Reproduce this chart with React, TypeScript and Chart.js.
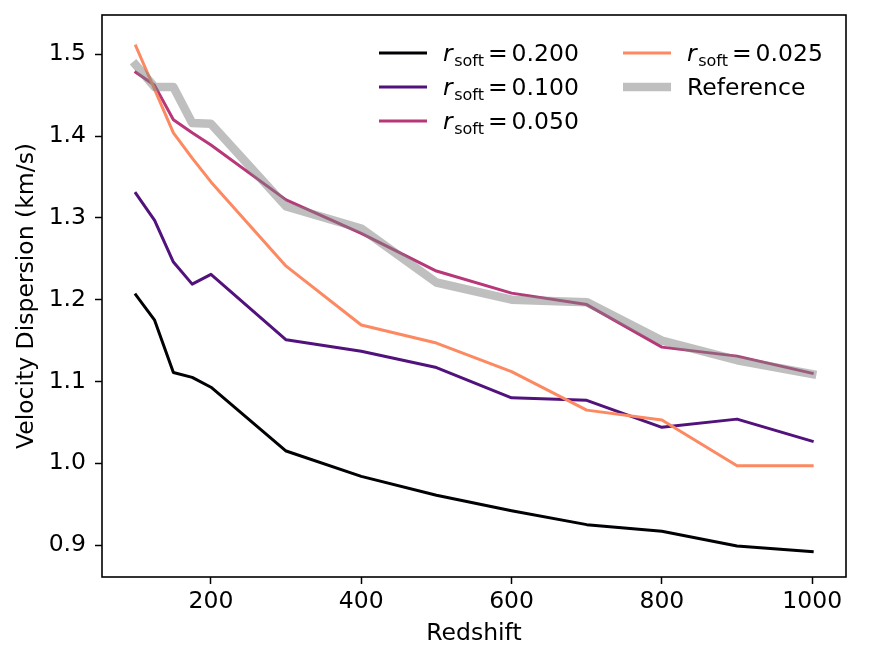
import { useEffect, useRef } from "react";
import { Chart, registerables } from "chart.js";

Chart.register(...registerables);

// Redshift sample points
const redshift = [100, 125, 150, 175, 200, 300, 400, 500, 600, 700, 800, 900, 1000];

// Velocity dispersion (km/s) per softening length
const soft200 = [1.206, 1.175, 1.111, 1.105, 1.093, 1.015, 0.984, 0.961, 0.942, 0.925, 0.917, 0.899, 0.892];
const soft100 = [1.330, 1.297, 1.246, 1.219, 1.231, 1.151, 1.137, 1.117, 1.080, 1.077, 1.044, 1.054, 1.027];
const soft050 = [1.478, 1.462, 1.420, 1.404, 1.389, 1.322, 1.281, 1.235, 1.208, 1.194, 1.142, 1.131, 1.110];
const soft025 = [1.510, 1.457, 1.404, 1.373, 1.344, 1.241, 1.169, 1.147, 1.112, 1.065, 1.053, 0.997, 0.997];
const reference = [1.487, 1.460, 1.460, 1.416, 1.415, 1.314, 1.287, 1.221, 1.200, 1.197, 1.150, 1.126, 1.109];

const softening = ["0.200", "0.100", "0.050", "0.025"];
const referenceLabel = "Reference";
const lineColors = ["#000004", "#51127c", "#b73779", "#fc8961"];
const referenceColor = "rgba(128,128,128,0.5)";

const xTicks = [200, 400, 600, 800, 1000];
const yTicks = [0.9, 1.0, 1.1, 1.2, 1.3, 1.4, 1.5];

const FONT = "'DejaVu Sans', sans-serif";
const FS = 23.5;
const TITLE_FS = 23.5;

// Full frame around the plotting area
const frame = {
  id: "frame",
  afterDatasetsDraw(chart: any) {
    const { ctx, chartArea: a } = chart;
    ctx.save();
    ctx.strokeStyle = "#000";
    ctx.lineWidth = 1.6;
    ctx.strokeRect(a.left, a.top, a.right - a.left, a.bottom - a.top);
    ctx.restore();
  },
};

// Two-column legend with r_soft subscripts
function drawSoftLabel(ctx: CanvasRenderingContext2D, x: number, base: number, value: string) {
  ctx.font = `italic ${FS}px ${FONT}`;
  ctx.fillText("r", x, base);
  x += ctx.measureText("r").width + 1.5;
  ctx.font = `${Math.round(FS * 0.68)}px ${FONT}`;
  ctx.fillText("soft", x, base + 5);
  x += ctx.measureText("soft").width + 4;
  ctx.font = `${FS}px ${FONT}`;
  ctx.fillText("=", x, base);
  x += ctx.measureText("=").width + 4;
  ctx.fillText(value, x, base);
}

const mathLegend = {
  id: "mathLegend",
  afterDraw(chart: any) {
    const { ctx, chartArea: a } = chart;
    const colX = [a.left + 277, a.left + 521];
    const rowY = [a.top + 38, a.top + 72, a.top + 106];
    const handle = 48;
    ctx.save();
    ctx.fillStyle = "#000";
    ctx.textBaseline = "alphabetic";
    ctx.textAlign = "left";
    chart.data.datasets.forEach((ds: any, i: number) => {
      const col = Math.floor(i / 3);
      const row = i % 3;
      const x = colX[col];
      const y = rowY[row];
      ctx.save();
      ctx.strokeStyle = ds.borderColor;
      ctx.lineWidth = ds.borderWidth;
      ctx.lineCap = "butt";
      ctx.beginPath();
      ctx.moveTo(x, y);
      ctx.lineTo(x + handle, y);
      ctx.stroke();
      ctx.restore();
      const tx = x + handle + 16;
      const base = y + 7.5;
      if (i < softening.length) {
        drawSoftLabel(ctx, tx, base, softening[i]);
      } else {
        ctx.font = `${FS}px ${FONT}`;
        ctx.fillText(referenceLabel, tx, base);
      }
    });
    ctx.restore();
  },
};

function series(values: number[]) {
  return redshift.map((z, i) => ({ x: z, y: values[i] }));
}

export default function App() {
  const canvasRef = useRef<HTMLCanvasElement | null>(null);

  useEffect(() => {
    const canvas = canvasRef.current;
    if (!canvas) return;

    const lineStyle = {
      pointRadius: 0,
      tension: 0,
      borderJoinStyle: "round" as const,
      borderCapStyle: "square" as const,
      fill: false,
    };

    const softSeries = [soft200, soft100, soft050, soft025];
    const datasets: any[] = softSeries.map((vals, i) => ({
      ...lineStyle,
      label: `r_soft = ${softening[i]}`,
      data: series(vals),
      borderColor: lineColors[i],
      backgroundColor: lineColors[i],
      borderWidth: 3,
      order: softSeries.length - i,
    }));
    datasets.push({
      ...lineStyle,
      label: referenceLabel,
      data: series(reference),
      borderColor: referenceColor,
      backgroundColor: referenceColor,
      borderWidth: 8.5,
      order: 0,
    });

    const tickFont = { family: FONT, size: FS };

    const chart = new Chart(canvas, {
      type: "line",
      data: { datasets },
      plugins: [frame, mathLegend],
      options: {
        animation: false,
        responsive: false,
        devicePixelRatio: 1,
        layout: { padding: { top: 15, right: 23, left: 0, bottom: 0 } },
        plugins: {
          legend: { display: false },
          tooltip: { enabled: false },
        },
        scales: {
          x: {
            type: "linear",
            min: 55,
            max: 1045,
            afterBuildTicks: (axis: any) => {
              axis.ticks = xTicks.map((v) => ({ value: v }));
            },
            afterFit: (axis: any) => {
              axis.height = 87;
              axis.paddingLeft = 0;
              axis.paddingRight = 0;
            },
            ticks: {
              font: tickFont,
              color: "#000",
              padding: 3.5,
              maxRotation: 0,
              autoSkip: false,
              callback: (v: any) => String(v),
            },
            grid: {
              display: true,
              drawOnChartArea: false,
              drawTicks: true,
              tickLength: 7,
              tickColor: "#000",
              tickWidth: 1.5,
            },
            border: { display: false },
            title: {
              display: true,
              text: "Redshift",
              color: "#000",
              font: { family: FONT, size: TITLE_FS },
              padding: { top: 0, bottom: 16.5 },
            },
          },
          y: {
            type: "linear",
            min: 0.861,
            max: 1.548,
            afterBuildTicks: (axis: any) => {
              axis.ticks = yTicks.map((v) => ({ value: v }));
            },
            afterFit: (axis: any) => {
              axis.width = 102;
              axis.paddingTop = 0;
              axis.paddingBottom = 0;
            },
            ticks: {
              font: tickFont,
              color: "#000",
              padding: 9,
              autoSkip: false,
              callback: (v: any) => Number(v).toFixed(1),
            },
            grid: {
              display: true,
              drawOnChartArea: false,
              drawTicks: true,
              tickLength: 7,
              tickColor: "#000",
              tickWidth: 1.5,
            },
            border: { display: false },
            title: {
              display: true,
              text: "Velocity Dispersion (km/s)",
              color: "#000",
              font: { family: FONT, size: TITLE_FS },
              padding: { top: 13, bottom: 0 },
            },
          },
        },
      } as any,
    });

    return () => chart.destroy();
  }, []);

  return (
    <div style={{ position: "absolute", left: 0, top: 0, width: 869, height: 664, background: "#fff" }}>
      <canvas ref={canvasRef} width={869} height={664} style={{ width: 869, height: 664, display: "block" }} />
    </div>
  );
}
